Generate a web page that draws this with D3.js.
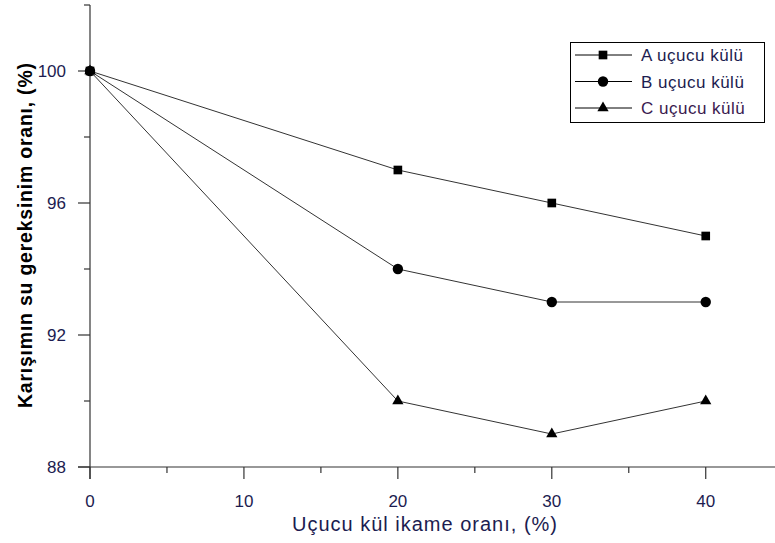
<!DOCTYPE html>
<html><head><meta charset="utf-8">
<script src="https://cdn.jsdelivr.net/npm/d3@7"></script>
<style>body{margin:0;background:#fff}svg{display:block}</style>
</head><body>
<svg id="c" width="775" height="543"></svg>
<script>
const xValues = [0, 20, 30, 40];
const seriesNames = ["A uçucu külü", "B uçucu külü", "C uçucu külü"];
const seriesA = [100, 97, 96, 95];
const seriesB = [100, 94, 93, 93];
const seriesC = [100, 90, 89, 90];
const xTicks = [0, 10, 20, 30, 40];
const yTicks = [88, 92, 96, 100];
const xTitle = "Uçucu kül ikame oranı, (%)";
const yTitle = "Karışımın su gereksinim oranı, (%)";

const svg = d3.select("#c");
const x = d3.scaleLinear().domain([0, 44.5]).range([90, 775]);
const y = d3.scaleLinear().domain([88, 102]).range([467, 5]);
const labelColor = "#1c1c50";
const axisColor = "#333";
const font = "Liberation Sans, Arial, sans-serif";

// Y axis
const yAxis = svg.append("g").attr("transform", "translate(90,0)");
yAxis.append("line").attr("x1", 0).attr("x2", 0).attr("y1", y(102)).attr("y2", y(88) + 12)
  .attr("stroke", axisColor).attr("stroke-width", 1.2);
yAxis.selectAll(".ymaj").data(yTicks).join("line")
  .attr("x1", -12).attr("x2", 0).attr("y1", d => y(d)).attr("y2", d => y(d))
  .attr("stroke", axisColor).attr("stroke-width", 1.2);
yAxis.selectAll(".ymin").data([90, 94, 98, 102]).join("line")
  .attr("x1", -6).attr("x2", 0).attr("y1", d => y(d)).attr("y2", d => y(d))
  .attr("stroke", axisColor).attr("stroke-width", 1.2);
yAxis.selectAll(".ylab").data(yTicks).join("text")
  .attr("x", -24).attr("y", d => y(d)).attr("dy", "0.35em")
  .attr("text-anchor", "end").attr("font-family", font)
  .attr("font-size", 17).attr("fill", labelColor).text(d => d);

// X axis
const xAxis = svg.append("g").attr("transform", "translate(0,467)");
xAxis.append("line").attr("x1", x(0) - 12).attr("x2", x(44.5)).attr("y1", 0).attr("y2", 0)
  .attr("stroke", axisColor).attr("stroke-width", 1.2);
xAxis.selectAll(".xmaj").data(xTicks).join("line")
  .attr("x1", d => x(d)).attr("x2", d => x(d)).attr("y1", 0).attr("y2", 12)
  .attr("stroke", axisColor).attr("stroke-width", 1.2);
xAxis.selectAll(".xmin").data([5, 15, 25, 35]).join("line")
  .attr("x1", d => x(d)).attr("x2", d => x(d)).attr("y1", 0).attr("y2", 6)
  .attr("stroke", axisColor).attr("stroke-width", 1.2);
xAxis.selectAll(".xlab").data(xTicks).join("text")
  .attr("x", d => x(d)).attr("y", 40)
  .attr("text-anchor", "middle").attr("font-family", font)
  .attr("font-size", 17).attr("fill", labelColor).text(d => d);

// Titles
svg.append("text").attr("x", 292).attr("y", 531)
  .attr("font-family", font).attr("font-size", 20)
  .attr("textLength", 265).attr("lengthAdjust", "spacing")
  .attr("fill", labelColor).text(xTitle);
svg.append("text").attr("transform", "translate(32,408) rotate(-90)")
  .attr("font-family", font).attr("font-size", 19.5)
  .attr("textLength", 345).attr("lengthAdjust", "spacing")
  .attr("font-weight", "bold").attr("fill", "#000").text(yTitle);

// Series
const series = [
  { name: seriesNames[0], values: seriesA, sym: d3.symbolSquare, size: 75 },
  { name: seriesNames[1], values: seriesB, sym: d3.symbolCircle, size: 85 },
  { name: seriesNames[2], values: seriesC, sym: d3.symbolTriangle, size: 55 }
];
const line = d3.line().x((d, i) => x(xValues[i])).y(d => y(d));
series.forEach(s => {
  svg.append("path").attr("d", line(s.values)).attr("fill", "none")
    .attr("stroke", "#333").attr("stroke-width", 1);
  svg.selectAll(null).data(s.values).join("path")
    .attr("transform", (d, i) => `translate(${x(xValues[i])},${y(d)})`)
    .attr("d", d3.symbol().type(s.sym).size(s.size)).attr("fill", "#000");
});

// Legend
const lg = svg.append("g");
lg.append("rect").attr("x", 570.5).attr("y", 42.5).attr("width", 194).attr("height", 80)
  .attr("fill", "#fff").attr("stroke", "#000").attr("stroke-width", 1);
series.forEach((s, i) => {
  const yy = 55 + i * 26.5;
  lg.append("line").attr("x1", 575).attr("x2", 632).attr("y1", yy).attr("y2", yy)
    .attr("stroke", "#000").attr("stroke-width", 1);
  lg.append("path").attr("transform", `translate(603,${yy})`)
    .attr("d", d3.symbol().type(s.sym).size(s.size)).attr("fill", "#000");
  lg.append("text").attr("x", 641).attr("y", yy).attr("dy", "0.36em")
    .attr("font-family", font).attr("font-size", 17).attr("letter-spacing", 0.5)
    .attr("fill", i === 2 ? "#3a1a50" : labelColor).text(s.name);
});
</script>
</body></html>
